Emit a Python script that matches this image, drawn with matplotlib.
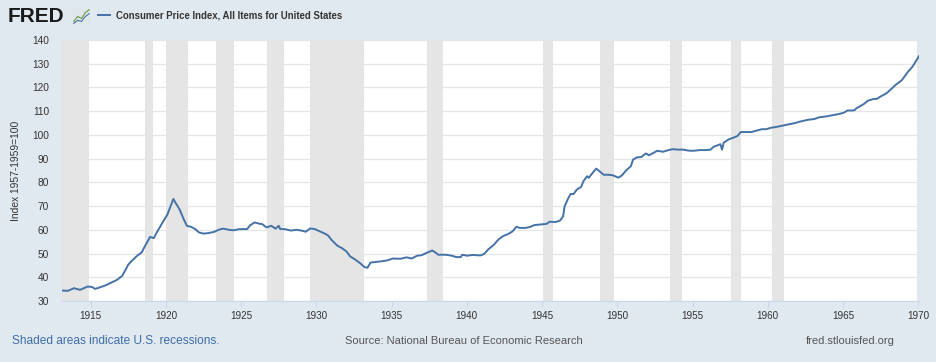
import matplotlib
matplotlib.use('Agg')
from matplotlib import pyplot as plt
import numpy as np

# CPI, all items, index 1957-1959=100 (decimal years)
years = [
    1913.1, 1913.5, 1913.9, 1914.3, 1914.8, 1915.1, 1915.3, 1915.6, 1916.0, 1916.4,
    1916.75, 1917.1, 1917.3, 1917.5, 1917.7, 1918.1, 1918.4, 1918.6, 1918.95, 1919.2,
    1919.4, 1919.7, 1920.1, 1920.35, 1920.5, 1920.65, 1920.9, 1921.2, 1921.4, 1921.7,
    1921.95, 1922.2, 1922.5, 1922.8, 1923.2, 1923.5, 1923.8, 1924.2, 1924.5, 1924.9,
    1925.4, 1925.6, 1925.9, 1926.2, 1926.4, 1926.7, 1927.0, 1927.3, 1927.5, 1927.6,
    1927.9, 1928.3, 1928.7, 1929.0, 1929.3, 1929.6, 1929.9, 1930.25, 1930.6, 1930.8,
    1931.0, 1931.4, 1931.7, 1932.0, 1932.25, 1932.6, 1932.9, 1933.2, 1933.4, 1933.6,
    1933.9, 1934.3, 1934.7, 1935.1, 1935.6, 1936.0, 1936.35, 1936.7, 1937.0, 1937.3,
    1937.7, 1937.9, 1938.1, 1938.6, 1939.0, 1939.3, 1939.6, 1939.7, 1940.0, 1940.4,
    1940.9, 1941.15, 1941.4, 1941.8, 1942.1, 1942.4, 1942.8, 1943.05, 1943.3, 1943.5,
    1943.9, 1944.2, 1944.5, 1945.0, 1945.3, 1945.5, 1945.9, 1946.2, 1946.4, 1946.5,
    1946.75, 1946.9, 1947.1, 1947.3, 1947.6, 1947.75, 1948.0, 1948.1, 1948.4, 1948.6,
    1948.85, 1949.1, 1949.4, 1949.7, 1950.06, 1950.3, 1950.6, 1950.9, 1951.05, 1951.3,
    1951.6, 1951.9, 1952.1, 1952.4, 1952.65, 1953.05, 1953.4, 1953.7, 1954.0, 1954.4,
    1954.7, 1955.0, 1955.5, 1955.9, 1956.2, 1956.4, 1956.7, 1956.85, 1956.96, 1957.07,
    1957.4, 1957.7, 1958.0, 1958.2, 1958.6, 1958.9, 1959.2, 1959.6, 1959.9, 1960.2,
    1960.6, 1960.9, 1961.3, 1961.8, 1962.2, 1962.7, 1963.1, 1963.4, 1963.9, 1964.3,
    1964.8, 1965.1, 1965.3, 1965.7, 1965.8, 1965.9, 1966.2, 1966.4, 1966.65, 1967.0,
    1967.25, 1967.5, 1967.9, 1968.2, 1968.5, 1968.9, 1969.1, 1969.3, 1969.6, 1970.05,
]
cpi = [
    34.4, 34.3, 35.4, 34.7, 36.1, 35.9, 35.1, 35.7, 36.6, 37.8,
    38.9, 40.6, 42.9, 45.3, 46.7, 49.1, 50.5, 53.0, 57.0, 56.5,
    58.9, 62.2, 66.4, 70.6, 73.0, 71.3, 68.8, 64.3, 61.7, 61.2,
    60.3, 58.9, 58.4, 58.6, 59.1, 60.0, 60.5, 60.0, 59.8, 60.3,
    60.3, 61.9, 63.1, 62.6, 62.4, 61.0, 61.7, 60.5, 61.7, 60.3,
    60.3, 59.7, 60.0, 59.7, 59.2, 60.6, 60.3, 59.3, 58.3, 57.5,
    55.8, 53.3, 52.3, 50.9, 48.8, 47.4, 46.0, 44.3, 44.0, 46.2,
    46.4, 46.7, 47.1, 47.9, 47.8, 48.4, 47.9, 49.1, 49.3, 50.2,
    51.3, 50.5, 49.5, 49.5, 49.1, 48.5, 48.5, 49.5, 49.1, 49.4,
    49.2, 49.8, 51.6, 53.7, 55.9, 57.3, 58.4, 59.4, 61.3, 60.8,
    60.8, 61.2, 62.0, 62.3, 62.5, 63.4, 63.3, 63.9, 65.7, 69.9,
    73.4, 75.1, 75.1, 76.9, 78.1, 80.5, 82.6, 81.9, 84.3, 85.8,
    84.5, 83.2, 83.2, 83.0, 82.0, 82.9, 85.1, 86.8, 89.6, 90.5,
    90.7, 92.2, 91.4, 92.4, 93.3, 92.9, 93.6, 94.0, 93.8, 93.8,
    93.4, 93.3, 93.6, 93.6, 93.8, 95.0, 95.7, 96.1, 93.8, 96.7,
    98.1, 98.8, 99.6, 101.2, 101.2, 101.2, 101.7, 102.4, 102.4, 103.0,
    103.4, 103.8, 104.3, 105.0, 105.7, 106.4, 106.7, 107.4, 107.8, 108.3,
    108.9, 109.5, 110.3, 110.3, 110.6, 111.3, 112.3, 113.1, 114.4, 115.1,
    115.2, 116.2, 117.6, 119.3, 121.1, 123.0, 124.7, 126.5, 128.6, 133.2,
]

# NBER recessions, peak to trough
rec_start = [1913.0, 1918.583, 1920.0, 1923.333, 1926.75, 1929.583, 1937.333,
             1945.083, 1948.833, 1953.5, 1957.583, 1960.25, 1969.917]
rec_end = [1914.917, 1919.167, 1921.5, 1924.5, 1927.833, 1933.167, 1938.417,
           1945.75, 1949.75, 1954.333, 1958.25, 1961.083, 1970.833]

x_ticks = [1915, 1920, 1925, 1930, 1935, 1940, 1945, 1950, 1955, 1960, 1965, 1970]
y_ticks = [30, 40, 50, 60, 70, 80, 90, 100, 110, 120, 130, 140]

BG = '#e1e9f0'
LINE = '#4572a7'
TXT = '#333333'

plt.rcParams['font.family'] = ['Liberation Sans', 'DejaVu Sans']

fig = plt.figure(figsize=(9.36, 3.62), dpi=100, facecolor=BG)
ax = fig.add_axes([62 / 936, 1 - 301 / 362, 857 / 936, 261 / 362])
ax.set_facecolor('white')

for s, e in zip(rec_start, rec_end):
    ax.axvspan(s, e, color='#e5e5e5', lw=0, zorder=1)

line, = ax.plot(years, cpi, color=LINE, lw=1.4, zorder=3)

ax.set_xlim(years[0], years[-1])
ax.set_ylim(30, 140)
ax.set_yticks(y_ticks)
ax.set_xticks(x_ticks)
ax.yaxis.grid(True, color='#e6e6e6', lw=0.9, zorder=0)
ax.set_axisbelow(True)

for side in ['top', 'right', 'left']:
    ax.spines[side].set_visible(False)
ax.spines['bottom'].set_color('#ccd6eb')
ax.spines['bottom'].set_linewidth(0.9)

ax.tick_params(axis='y', length=0, pad=9.4, labelsize=7.3, labelcolor=TXT)
ax.tick_params(axis='x', length=4, width=0.8, color='#ccd6eb', pad=3,
               labelsize=7.1, labelcolor=TXT)
ax.set_ylabel('Index 1957-1959=100', fontsize=7.4, color=TXT)
ax.yaxis.label.set_va('center')
ax.yaxis.set_label_coords(-46 / 857, 0.5)

# header: logo + legend entry
fig.text(8 / 936, 1 - 16 / 362, 'FRED', fontsize=15, fontweight='bold',
         color='#1a1a1a', va='center', ha='left')
icon = fig.add_axes([73 / 936, 1 - 24 / 362, 17 / 936, 15 / 362])
icon.set_facecolor('#dfe6ec')
icon.plot([0, 1, 2, 3, 4], [1, 2, 1.6, 2.8, 3.4], color='#6a9a3c', lw=0.8)
icon.plot([0, 1, 2, 3, 4], [0.6, 1.2, 1.0, 2.0, 2.6], color='#4572a7', lw=0.8)
icon.set_xticks([])
icon.set_yticks([])
for sp in icon.spines.values():
    sp.set_visible(False)

fig.legend([line], ['Consumer Price Index, All Items for United States'],
           loc='center left', bbox_to_anchor=(89 / 936, 1 - 15 / 362),
           frameon=False, handlelength=1.3, handletextpad=0.6,
           prop={'size': 6.9, 'weight': 'bold'}, labelcolor=TXT)

# footer
fig.text(12 / 936, 1 - 341 / 362, 'Shaded areas indicate U.S. recessions.',
         fontsize=8.6, color='#3d6ca8', va='center', ha='left')
fig.text(345 / 936, 1 - 341 / 362, 'Source: National Bureau of Economic Research',
         fontsize=8, color='#555555', va='center', ha='left')
fig.text(895 / 936, 1 - 341 / 362, 'fred.stlouisfed.org',
         fontsize=8, color='#555555', va='center', ha='right')

plt.savefig('out.png', dpi=100, facecolor=BG)
